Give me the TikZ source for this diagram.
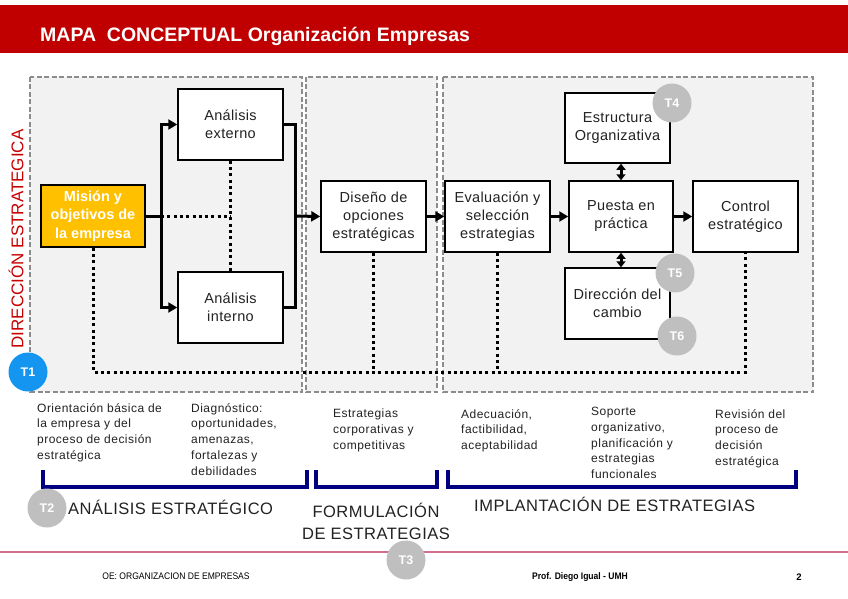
\documentclass[tikz,border=0pt]{standalone}
\usepackage{fontspec}
\setmainfont{Liberation Sans}
\newfontfamily\narrowfont[FakeStretch=0.9]{Liberation Sans}
\newfontfamily\spacedfont[LetterSpace=4]{Liberation Sans}
\newfontfamily\boxspaced[LetterSpace=2.5]{Liberation Sans}
\newfontfamily\secfont[LetterSpace=3]{Liberation Sans}
\usetikzlibrary{arrows.meta}
\definecolor{hdrred}{RGB}{192,0,0}
\definecolor{gold}{RGB}{255,192,0}
\definecolor{panelfill}{RGB}{242,242,242}
\definecolor{paneldraw}{RGB}{140,140,140}
\definecolor{txt}{RGB}{34,34,34}
\definecolor{tgray}{RGB}{191,191,191}
\definecolor{tblue}{RGB}{20,150,240}
\definecolor{navy}{RGB}{0,0,128}
\definecolor{pinkline}{RGB}{210,112,140}
\definecolor{dirred}{RGB}{200,0,0}
\begin{document}
\begin{tikzpicture}[x=1pt,y=-1pt,
  panel/.style={draw=paneldraw, fill=panelfill, line width=1.4pt, dash pattern=on 5pt off 2.5pt},
  box/.style={draw=black, line width=1.5pt, fill=white, minimum width=105pt, minimum height=71pt,
    inner sep=2pt, align=center, text=txt, font=\boxspaced\fontsize{14.5}{18}\selectfont},
  conn/.style={line width=3pt, black},
  arr/.style={line width=3pt, black, -{Triangle[length=9pt,width=10pt]}},
  darr/.style={line width=3pt, black, {Triangle[length=6pt,width=9pt]}-{Triangle[length=6pt,width=9pt]}},
  dotline/.style={line width=3pt, black, dash pattern=on 3pt off 3.3pt},
  tcirc/.style={circle, fill=tgray, text=white, font=\bfseries\fontsize{12.5}{14}\selectfont, minimum size=39pt, inner sep=0pt},
  note/.style={anchor=north west, align=left, inner sep=0pt, text=txt, font=\spacedfont\fontsize{12}{15.8}\selectfont},
  section/.style={inner sep=0pt, text=txt, font=\secfont\fontsize{16.5}{22}\selectfont},
  bracket/.style={draw=navy, line width=4pt}
]
\useasboundingbox (0,0) rectangle (848,599);
\fill[white] (0,0) rectangle (848,599);

% header
\fill[hdrred] (0,5) rectangle (848,53);
\node[anchor=base west, inner sep=0pt, text=white, font=\bfseries\fontsize{19.5}{22}\selectfont] (title) at (40,42) {MAPA\ \ CONCEPTUAL Organización Empresas};

% panels
\draw[panel] (30,77) rectangle (302,392);
\draw[panel] (306,77) rectangle (437,392);
\draw[panel] (443,77) rectangle (813,392);

% vertical label
\node[rotate=90, inner sep=0pt, text=dirred, font=\fontsize{17}{20}\selectfont] (dir-label) at (16,239) {DIRECCIÓN ESTRATEGICA};

% boxes
\node[box, minimum width=104pt, minimum height=62pt, fill=gold, text=white, font=\bfseries\fontsize{14.5}{18.5}\selectfont] (mis) at (93,216) {Misión y\\objetivos de\\la empresa};
\node[box] (ext) at (230.5,124.5) {Análisis\\externo};
\node[box] (int) at (230.5,307.5) {Análisis\\interno};
\node[box] (dis) at (373.5,216.5) {Diseño de\\opciones\\estratégicas};
\node[box] (eva) at (497.5,216.5) {Evaluación y\\selección\\estrategias};
\node[box, minimum width=104pt] (pue) at (621,216.5) {Puesta en\\práctica};
\node[box] (con) at (745.5,216.5) {Control\\estratégico};
\node[box, minimum height=70pt] (est) at (617.5,128) {Estructura\\Organizativa};
\node[box] (dir) at (617.5,303.5) {Dirección del\\cambio};

% junctions
\coordinate (j1) at (161,216);
\coordinate (j2) at (295,216);
\coordinate (loopy) at (0,372);

% dotted links
\draw[dotline] (j1) -- (ext.south |- j1);
\draw[dotline] (ext.south) -- (int.north);
\draw[dotline] (mis.south) -- (mis.south |- loopy) -- (con.south |- loopy) -- (con.south);
\draw[dotline] (dis.south) -- (dis.south |- loopy);
\draw[dotline] (eva.south) -- (eva.south |- loopy);

% solid links
\draw[conn] (mis.east) -- (j1);
\draw[arr] (j1) |- (ext.west);
\draw[arr] (j1) |- (int.west);
\draw[conn] (ext.east) -| (j2);
\draw[conn] (int.east) -| (j2);
\draw[arr] (j2) -- (dis.west);
\draw[arr] (dis.east) -- (eva.west);
\draw[arr] (eva.east) -- (pue.west);
\draw[arr] (pue.east) -- (con.west);
\draw[darr] (pue.north |- est.south) -- (pue.north);
\draw[darr] (pue.south) -- (pue.south |- dir.north);

% topic circles
\node[tcirc] (t4) at (672,103) {T4};
\node[tcirc] (t5) at (675,273) {T5};
\node[tcirc] (t6) at (677,336) {T6};
\node[tcirc, fill=tblue] (t1) at (28,372) {T1};

% notes
\node[note] (n1) at (37,403) {Orientación básica de\\la empresa y del\\proceso de decisión\\estratégica};
\node[note] (n2) at (191,403) {Diagnóstico:\\oportunidades,\\amenazas,\\fortalezas y\\debilidades};
\node[note] (n3) at (333,409) {Estrategias\\corporativas y\\competitivas};
\node[note] (n4) at (461,409) {Adecuación,\\factibilidad,\\aceptabilidad};
\node[note] (n5) at (591,407) {Soporte\\organizativo,\\planificación y\\estrategias\\funcionales};
\node[note] (n6) at (715,409) {Revisión del\\proceso de\\decisión\\estratégica};

% brackets
\draw[bracket] (43,470) -- (43,487) -- (307,487) -- (307,470);
\draw[bracket] (316,470) -- (316,487) -- (437,487) -- (437,470);
\draw[bracket] (448,470) -- (448,487) -- (796,487) -- (796,470);

% section labels
\node[tcirc] (t2) at (47,508) {T2};
\node[section, anchor=base west] (s1) at (68,514) {ANÁLISIS ESTRATÉGICO};
\node[section, align=center] (s2) at (376,521) {FORMULACIÓN\\DE ESTRATEGIAS};
\node[section, anchor=base west] (s3) at (474,511) {IMPLANTACIÓN DE ESTRATEGIAS};

% footer
\draw[pinkline, line width=1.5pt] (0,552) -- (848,552);
\node[tcirc] (t3) at (406,560) {T3};
\node[inner sep=0pt, text=black, font=\narrowfont\fontsize{9.5}{11}\selectfont] (f1) at (176,576) {OE: ORGANIZACION DE EMPRESAS};
\node[inner sep=0pt, text=black, font=\narrowfont\bfseries\fontsize{9.5}{11}\selectfont] (f2) at (580,577) {Prof. Diego Igual - UMH};
\node[inner sep=0pt, text=black, font=\bfseries\fontsize{9.5}{11}\selectfont] (f3) at (799,577) {2};
\end{tikzpicture}
\end{document}
